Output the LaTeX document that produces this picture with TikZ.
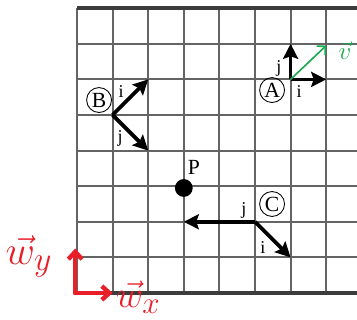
\documentclass[tikz,border=0pt]{standalone}
\usepackage{fontspec}
\setmainfont{Liberation Serif}
\usetikzlibrary{arrows.meta}
\definecolor{gridgray}{RGB}{100,100,100}
\definecolor{penred}{RGB}{232,30,40}
\definecolor{pengreen}{RGB}{25,170,80}
\begin{document}
\begin{tikzpicture}[
	gridline/.style={gridgray,line width=1.7pt},
	border/.style={gridgray!60!black,line width=2.8pt},
	basis/.style={line width=3pt,-{Stealth[length=12pt,width=12pt,inset=2pt]}},
	frame/.style={draw,circle,line width=0.7pt,inner sep=0pt,minimum size=0.7cm,font=\LARGE},
	tag/.style={font=\Large,inner sep=1pt},
	ink/.style={penred,line width=3.5pt,line cap=round,line join=round,-{Straight Barb[length=6pt,width=11pt]}}
]
	\useasboundingbox (-2.163,-0.758) rectangle (7.865,8.23);
	% grid
	\foreach \y in {1,...,7} \draw[gridline] (0,\y) -- (7.865,\y);
	\foreach \x in {0,...,7} \draw[gridline] (\x,0) -- (\x,8);
	\draw[border] (0,8) -- (7.865,8);
	\draw[border] (0,0) -- (7.865,0);
	% frame origins and tips
	\coordinate (A) at (6,6);
	\coordinate (Ai) at (7,6);
	\coordinate (Aj) at (6,7);
	\coordinate (B) at (1,5);
	\coordinate (Bi) at (2,6);
	\coordinate (Bj) at (2,4);
	\coordinate (C) at (5,2);
	\coordinate (Ci) at (6,1);
	\coordinate (Cj) at (3,2);
	\coordinate (v) at (7,6.95);
	\coordinate (W) at (-0.05,0);
	\coordinate (wy) at (-0.05,1.25);
	\coordinate (wx) at (1,0);
	% basis vectors
	\draw[basis] (A) -- (Ai);
	\draw[basis] (A) -- (Aj);
	\draw[basis] (B) -- (Bi);
	\draw[basis] (B) -- (Bj);
	\draw[basis] (C) -- (Ci);
	\draw[basis] (C) -- (Cj);
	\node[frame] (Alabel) at (5.48,5.70) {A};
	\node[frame] (Blabel) at (0.62,5.42) {B};
	\node[frame] (Clabel) at (5.48,2.50) {C};
	\node[tag] (Ailabel) at (6.24,5.65) {i};
	\node[tag] (Ajlabel) at (5.67,6.32) {j};
	\node[tag] (Bilabel) at (1.24,5.65) {i};
	\node[tag] (Bjlabel) at (1.21,4.35) {j};
	\node[tag] (Cilabel) at (5.22,1.29) {i};
	\node[tag] (Cjlabel) at (4.69,2.33) {j};
	% point P
	\coordinate (P) at (3,2.95);
	\fill (P) circle [radius=0.25];
	\node[tag,font=\LARGE] (Plabel) at (3.28,3.54) {P};
	% hand-drawn additions
	\draw[pengreen,line width=1.3pt,-{Straight Barb[length=5pt,width=10pt]}] (A) -- (v);
	\node[pengreen,font=\LARGE] (vlabel) at (7.53,6.8) {\scalebox{1.15}{$\vec{v}$}};
	\draw[ink] (W) -- (wy);
	\draw[ink] (W) -- (wx);
	\node[penred,font=\Huge] (wylabel) at (-1.35,1.02) {\scalebox{1.3}{$\vec{w}_y$}};
	\node[penred,font=\Huge] (wxlabel) at (1.72,-0.12) {\scalebox{1.2}{$\vec{w}_x$}};
\end{tikzpicture}
\end{document}
